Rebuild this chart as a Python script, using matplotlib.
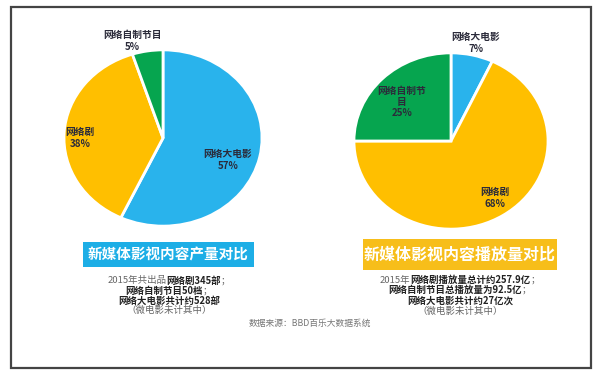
import matplotlib
matplotlib.use("Agg")
import matplotlib.pyplot as plt
from matplotlib.patches import Rectangle

plt.rcParams['font.family'] = ['Noto Sans CJK SC', 'DejaVu Sans']

# production share (left pie), clockwise from top
prod_labels = ["网络大电影", "网络剧", "网络自制节目"]
prod_values = [57, 38, 5]
# play-count share (right pie), clockwise from top
play_labels = ["网络大电影", "网络剧", "网络自制节\n目"]
play_values = [7, 68, 25]

BLUE = "#29B3EC"
YELLOW = "#FFBF00"
GREEN = "#06A54F"
colors = [BLUE, YELLOW, GREEN]

left_title = "新媒体影视内容产量对比"
right_title = "新媒体影视内容播放量对比"
source_txt = "数据来源：BBD百乐大数据系统"

# note lines as (text, bold?) pieces
left_notes = [
    [("2015年共出品", False), ("网络剧345部", True), ("；", False)],
    [("网络自制节目50档", True), ("；", False)],
    [("网络大电影共计约528部", True)],
    [("（微电影未计其中）", False)],
]
right_notes = [
    [("2015年", False), ("网络剧播放量总计约257.9亿", True), ("；", False)],
    [("网络自制节目总播放量为92.5亿", True), ("；", False)],
    [("网络大电影共计约27亿次", True)],
    [("（微电影未计其中）", False)],
]

W, H = 600, 375
fig = plt.figure(figsize=(6, 3.75), dpi=100)


def fx(x):
    return x / W


def fy(y):
    return 1 - y / H


# outer frame
fig.patches.append(Rectangle((fx(11), fy(368)), fx(580), (368 - 7) / H,
                             transform=fig.transFigure, fill=False,
                             edgecolor="#444444", lw=1.6))


def draw_pie(cx, cy, rx, ry, values, labels, label_pos):
    # the source image is stretched sideways, so the pies are ellipses
    ax = fig.add_axes([fx(cx - rx), fy(cy + ry), 2 * rx / W, 2 * ry / H])
    ax.pie(values, colors=colors, startangle=90, counterclock=False,
           wedgeprops=dict(edgecolor="white", linewidth=2))
    ax.set_aspect("auto")
    ax.set_xlim(-1.01, 1.01)
    ax.set_ylim(-1.01, 1.01)
    ax.axis("off")
    for lab, v, (px, py) in zip(labels, values, label_pos):
        fig.text(fx(px), fy(py), "%s\n%d%%" % (lab, v), ha="center", va="center",
                 fontsize=7, fontweight="bold", color="#2b2b3a", linespacing=1.15)


draw_pie(163, 138, 100, 89, prod_values, prod_labels,
         [(228, 160), (80, 138), (132, 41)])
draw_pie(451, 141, 98, 89, play_values, play_labels,
         [(476, 43), (495, 198), (402, 102)])


def title_box(x0, y0, x1, y1, color, text, size):
    fig.patches.append(Rectangle((fx(x0), fy(y1)), (x1 - x0) / W, (y1 - y0) / H,
                                 transform=fig.transFigure, facecolor=color,
                                 edgecolor="none"))
    fig.text(fx((x0 + x1) / 2), fy((y0 + y1) / 2), text, ha="center", va="center",
             fontsize=size, fontweight="bold", color="white")


title_box(83, 242, 254, 267, "#1DAEE6", left_title, 10.5)
title_box(363, 239, 557, 270, "#F7BE1A", right_title, 11.5)

renderer = fig.canvas.get_renderer()


def mixed_line(xc, y, pieces, size=6.8):
    # measure each piece, then lay them out centred on xc
    texts = []
    total = 0
    for s, bold in pieces:
        t = fig.text(0, fy(y), s, ha="left", va="center", fontsize=size,
                     fontweight="bold" if bold else "normal",
                     color="#222222" if bold else "#666666")
        w = t.get_window_extent(renderer).width
        texts.append((t, w))
        total += w
    x = xc - total / 2
    for t, w in texts:
        t.set_x(fx(x))
        x += w


for i, line in enumerate(left_notes):
    mixed_line(169, 281 + i * 9.8, line)
for i, line in enumerate(right_notes):
    mixed_line(460, 280 + i * 10.3, line)

fig.text(fx(310), fy(323), source_txt, ha="center", va="center",
         fontsize=6.3, color="#777777")

fig.savefig("out.png", dpi=100)
